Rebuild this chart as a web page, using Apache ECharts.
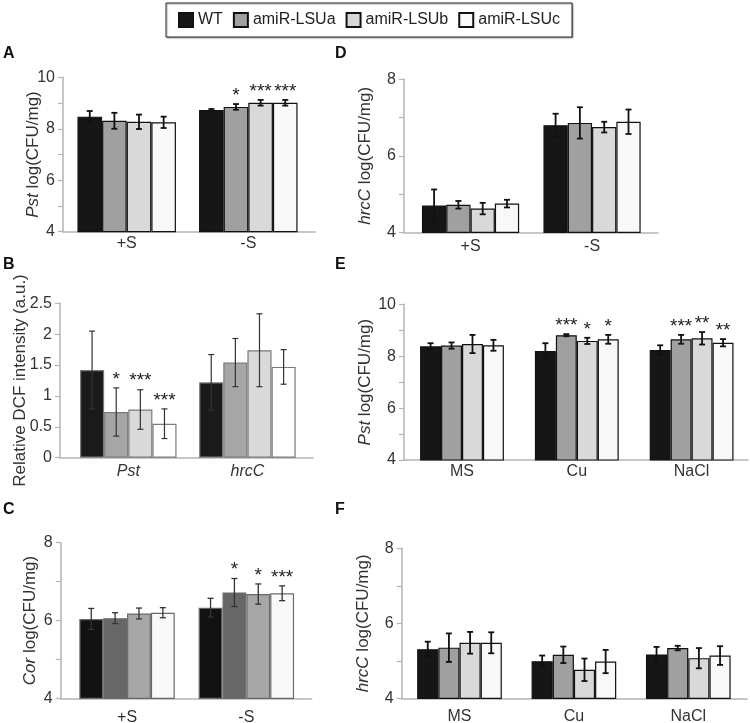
<!DOCTYPE html>
<html>
<head>
<meta charset="utf-8">
<script src="https://cdn.jsdelivr.net/npm/echarts@6/dist/echarts.min.js"></script>
<style>
  html, body { margin: 0; padding: 0; background: #fff; }
  #chart { width: 750px; height: 723px; }
</style>
</head>
<body>
<div id="chart"></div>
<script>
const genotypes = ['WT', 'amiR-LSUa', 'amiR-LSUb', 'amiR-LSUc']
const sulfurCats = ['+S', '-S']
const strainCats = ['Pst', 'hrcC']
const stressCats = ['MS', 'Cu', 'NaCl']

// values per genotype (WT, a, b, c), one entry per category
const aMean = [[8.47, 8.73], [8.31, 8.85], [8.27, 9.01], [8.25, 9.01]]
const aErr = [[0.22, 0.04], [0.31, 0.11], [0.28, 0.11], [0.22, 0.11]]
const aStars = [['', ''], ['', '*'], ['', '***'], ['', '***']]

const bMean = [[1.42, 1.22], [0.74, 1.54], [0.78, 1.74], [0.55, 1.47]]
const bErr = [[0.63, 0.45], [0.39, 0.39], [0.32, 0.59], [0.24, 0.28]]
const bStars = [['', ''], ['*', ''], ['***', ''], ['***', '']]

const cMean = [[6.04, 6.33], [6.06, 6.72], [6.18, 6.68], [6.20, 6.70]]
const cErr = [[0.27, 0.24], [0.14, 0.36], [0.14, 0.26], [0.13, 0.19]]
const cStars = [['', ''], ['', '*'], ['', '*'], ['', '***']]

const dMean = [[4.70, 6.80], [4.72, 6.86], [4.62, 6.75], [4.75, 6.89]]
const dErr = [[0.42, 0.30], [0.10, 0.41], [0.15, 0.14], [0.10, 0.32]]
const dStars = [['', ''], ['', ''], ['', ''], ['', '']]

const eMean = [[8.38, 8.20, 8.24], [8.41, 8.81, 8.65], [8.47, 8.59, 8.69], [8.42, 8.65, 8.52]]
const eErr = [[0.12, 0.30, 0.18], [0.12, 0.04, 0.17], [0.35, 0.12, 0.24], [0.21, 0.17, 0.14]]
const eStars = [['', '', ''], ['', '***', '***'], ['', '*', '**'], ['', '*', '**']]

const fMean = [[5.31, 4.99, 5.17], [5.35, 5.16, 5.34], [5.48, 4.76, 5.07], [5.48, 4.98, 5.14]]
const fErr = [[0.20, 0.15, 0.20], [0.38, 0.22, 0.06], [0.29, 0.30, 0.27], [0.28, 0.31, 0.25]]
const fStars = [['', '', ''], ['', '', ''], ['', '', ''], ['', '', '']]

const FONT = '"Liberation Sans", Arial, sans-serif'
const TEXT = '#333'
const AXIS = '#b4b4b4'

const greysMain = ['#161616', '#a0a0a0', '#d9d9d9', '#f7f8f7']
const greysB = ['#1a1a1a', '#a6a6a6', '#d9d9d9', '#ffffff']
const greysC = ['#121212', '#676767', '#a6a6a6', '#f8f9f8']

const panels = [
  { letter: 'A', frame: [63, 315, 77.3, 231.7], data: [65.9, 309.1], cats: sulfurCats,
    min: 4, max: 10, interval: 1, evenOnly: true, name: '{i|Pst} log(CFU/mg)', nameGap: 21,
    mean: aMean, err: aErr, stars: aStars, colors: greysMain, border: '#111', gap: '19%',
    errColor: '#111', errWidth: 1.8, labelMargin: 4 },
  { letter: 'B', frame: [60, 313, 303.3, 457.7], data: [68.7, 307], cats: strainCats, italicCats: true,
    min: 0, max: 2.5, interval: 0.5, name: 'Relative DCF intensity (a.u.)', nameGap: 31,
    mean: bMean, err: bErr, stars: bStars, colors: greysB, border: '#7a7a7a', gap: '19%',
    errColor: '#333', errWidth: 1.2, labelMargin: 6 },
  { letter: 'C', frame: [60.7, 311.7, 542.7, 698.3], data: [67.4, 306], cats: sulfurCats,
    min: 4, max: 8, interval: 1, evenOnly: true, name: '{i|Cor} log(CFU/mg)', nameGap: 22,
    mean: cMean, err: cErr, stars: cStars, colors: greysC, border: '#6a6a6a', gap: '20%',
    errColor: '#333', errWidth: 1.3, labelMargin: 11 },
  { letter: 'D', frame: [404, 658, 79.3, 232.3], data: [409.8, 652.8], cats: sulfurCats,
    min: 4, max: 8, interval: 1, evenOnly: true, name: '{i|hrcC} log(CFU/mg)', nameGap: 30,
    mean: dMean, err: dErr, stars: dStars, colors: greysMain, border: '#111', gap: '20%',
    errColor: '#111', errWidth: 1.8, labelMargin: 6 },
  { letter: 'E', frame: [404, 748, 304.3, 460], data: [404.6, 749], cats: stressCats,
    min: 4, max: 10, interval: 1, evenOnly: true, name: '{i|Pst} log(CFU/mg)', nameGap: 30,
    mean: eMean, err: eErr, stars: eStars, colors: greysMain, border: '#111', gap: '27%',
    errColor: '#111', errWidth: 1.8, labelMargin: 4 },
  { letter: 'F', frame: [401.7, 747, 548.3, 698.3], data: [402.3, 745.5], cats: stressCats,
    min: 4, max: 8, interval: 1, evenOnly: true, name: '{i|hrcC} log(CFU/mg)', nameGap: 30,
    mean: fMean, err: fErr, stars: fStars, colors: greysMain, border: '#111', gap: '26%',
    errColor: '#111', errWidth: 1.8, labelMargin: 10 }
]

const letterPos = {
  A: [3, 46], B: [3, 257], C: [3, 502], D: [335, 46], E: [335, 257], F: [335, 502]
}

const grid = []
const xAxis = []
const yAxis = []
const series = []
const title = []

panels.forEach((p) => {
  const [fl, fr, ft, fb] = p.frame
  const [dl, dr] = p.data
  const frameIdx = grid.length
  grid.push({ left: fl, top: ft, width: fr - fl, height: fb - ft, outerBoundsMode: 'none', containLabel: false })
  const dataIdx = grid.length
  grid.push({ left: dl, top: ft, width: dr - dl, height: fb - ft, outerBoundsMode: 'none', containLabel: false })

  // frame: visible y axis and the x axis line
  xAxis.push({
    gridIndex: frameIdx, type: 'value', min: 0, max: 1,
    axisLine: { show: true, lineStyle: { color: AXIS, width: 1.5 } },
    axisTick: { show: false }, axisLabel: { show: false }, splitLine: { show: false }
  })
  yAxis.push({
    gridIndex: frameIdx, type: 'value', min: p.min, max: p.max, interval: p.interval,
    name: p.name, nameLocation: 'middle', nameGap: p.nameGap, nameRotate: 90,
    nameMoveOverlap: false,
    nameTextStyle: {
      fontSize: 17, color: TEXT, fontFamily: FONT,
      rich: { i: { fontSize: 17, color: TEXT, fontFamily: FONT, fontStyle: 'italic' } }
    },
    axisLine: { show: true, lineStyle: { color: AXIS, width: 1.5 } },
    axisTick: { show: true, length: 5, lineStyle: { color: AXIS, width: 1.2 } },
    axisLabel: {
      fontSize: 16, color: TEXT, fontFamily: FONT, margin: 8,
      formatter: (v) => (p.evenOnly && v % 2 !== 0 ? '' : String(v))
    },
    splitLine: { show: false }
  })

  // data: category axis for the bars
  xAxis.push({
    gridIndex: dataIdx, type: 'category', data: p.cats,
    axisLine: { show: false }, axisTick: { show: false },
    axisLabel: {
      fontSize: 16, color: TEXT, fontFamily: FONT, margin: p.labelMargin,
      fontStyle: p.italicCats ? 'italic' : 'normal'
    }
  })
  yAxis.push({ gridIndex: dataIdx, type: 'value', min: p.min, max: p.max, show: false })

  const xi = xAxis.length - 1
  const yi = yAxis.length - 1
  const gapFrac = parseFloat(p.gap) / 100

  genotypes.forEach((g, gi) => {
    series.push({
      type: 'bar', name: g, xAxisIndex: xi, yAxisIndex: yi,
      data: p.mean[gi], barGap: '0%', barCategoryGap: p.gap, silent: true,
      itemStyle: { color: p.colors[gi], borderColor: p.border, borderWidth: 1.2 }
    })
  })

  const errData = []
  const starList = []
  genotypes.forEach((g, gi) => {
    p.cats.forEach((c, ci) => {
      errData.push([ci, gi, p.mean[gi][ci], p.err[gi][ci]])
      starList.push(p.stars[gi][ci])
    })
  })

  series.push({
    type: 'custom', xAxisIndex: xi, yAxisIndex: yi, silent: true, z: 5,
    encode: { x: 0, y: 2 },
    data: errData,
    renderItem(params, api) {
      const ci = api.value(0)
      const gi = api.value(1)
      const mean = api.value(2)
      const err = api.value(3)
      const band = api.size([1, 0])[0]
      const bw = band * (1 - gapFrac) / 4
      const x = api.coord([ci, mean])[0] + (gi - 1.5) * bw
      const top = api.coord([ci, mean + err])[1]
      const bot = api.coord([ci, mean - err])[1]
      const st = { stroke: p.errColor, lineWidth: p.errWidth }
      const cap = 3
      const children = [
        { type: 'line', shape: { x1: x, y1: top, x2: x, y2: bot }, style: st },
        { type: 'line', shape: { x1: x - cap, y1: top, x2: x + cap, y2: top }, style: st },
        { type: 'line', shape: { x1: x - cap, y1: bot, x2: x + cap, y2: bot }, style: st }
      ]
      const star = starList[params.dataIndex]
      if (star) {
        children.push({
          type: 'text',
          style: {
            text: star, x: x, y: top + 1, align: 'center', verticalAlign: 'bottom',
            fontSize: 19, fontFamily: FONT, fill: '#222'
          }
        })
      }
      return { type: 'group', children }
    }
  })

  const lp = letterPos[p.letter]
  title.push({
    text: p.letter, left: lp[0], top: lp[1], padding: 0,
    textStyle: { fontSize: 16, fontWeight: 'bold', color: '#111', fontFamily: FONT }
  })
})

const chart = echarts.init(document.getElementById('chart'))
chart.setOption({
  animation: false,
  backgroundColor: '#fff',
  title,
  legend: {
    data: genotypes, top: 3, left: 166, icon: 'rect', itemWidth: 14, itemHeight: 14,
    itemGap: 10, padding: [9, 12, 9, 12], borderColor: '#222', borderWidth: 1,
    selectedMode: false,
    shadowColor: 'rgba(0,0,0,0.35)', shadowOffsetX: 1, shadowOffsetY: 1, shadowBlur: 1,
    backgroundColor: '#fff',
    textStyle: { fontSize: 16, color: '#222', fontFamily: FONT }
  },
  grid,
  xAxis,
  yAxis,
  series
})
</script>
</body>
</html>
